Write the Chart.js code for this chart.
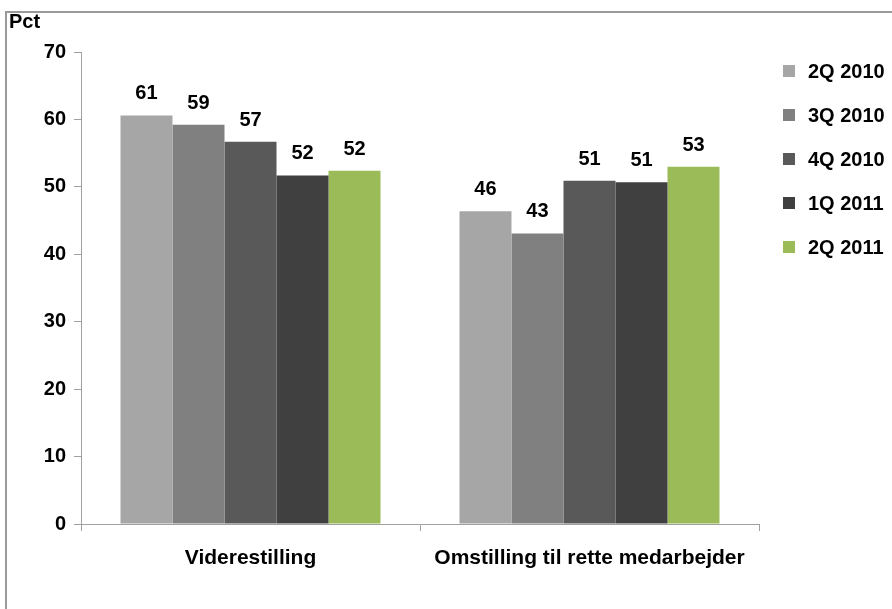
<!DOCTYPE html>
<html>
<head>
<meta charset="utf-8">
<script src="https://cdn.jsdelivr.net/npm/chart.js@4"></script>
<style>
  html, body { margin: 0; padding: 0; background: #fff; }
  #wrap { position: relative; width: 892px; height: 609px; overflow: hidden; }
  #frame { position: absolute; left: 5px; top: 11px; right: -4px; bottom: -4px;
           border-top: 2px solid #9a9a9a; border-left: 2px solid #9a9a9a; pointer-events: none; }
  canvas { position: absolute; left: 0; top: 0; }
</style>
</head>
<body>
<div id="wrap">
  <canvas id="chart" width="892" height="609"></canvas>
  <div id="frame"></div>
</div>
<script>
// Categories and quarterly shares (pct)
const categories = ['Viderestilling', 'Omstilling til rette medarbejder'];
const seriesNames = ['2Q 2010', '3Q 2010', '4Q 2010', '1Q 2011', '2Q 2011'];
const q2_2010 = [60.6, 46.4];
const q3_2010 = [59.2, 43.1];
const q4_2010 = [56.7, 50.9];
const q1_2011 = [51.7, 50.7];
const q2_2011 = [52.4, 53.0];
const yTicks = [0, 10, 20, 30, 40, 50, 60, 70];
const axisTitle = 'Pct';

const seriesValues = [q2_2010, q3_2010, q4_2010, q1_2011, q2_2011];
const seriesColors = ['#a6a6a6', '#808080', '#595959', '#404040', '#9bbb59'];

const FONT = '"Liberation Sans", Arial, sans-serif';

// Value labels above each bar
const valueLabels = {
  id: 'valueLabels',
  afterDatasetsDraw(chart) {
    const ctx = chart.ctx;
    ctx.save();
    ctx.font = 'bold 20px ' + FONT;
    ctx.fillStyle = '#000';
    ctx.textAlign = 'center';
    ctx.textBaseline = 'alphabetic';
    chart.data.datasets.forEach((ds, i) => {
      chart.getDatasetMeta(i).data.forEach((bar, j) => {
        ctx.fillText(String(Math.round(ds.data[j])), bar.x, bar.y - 16);
      });
    });
    ctx.restore();
  }
};

// Legend column on the right and the unit label in the corner
const sideLegend = {
  id: 'sideLegend',
  afterDraw(chart) {
    const ctx = chart.ctx;
    ctx.save();
    ctx.font = 'bold 20px ' + FONT;
    ctx.textBaseline = 'middle';
    ctx.textAlign = 'left';
    chart.data.datasets.forEach((ds, i) => {
      const cy = 71 + i * 44;
      ctx.fillStyle = ds.backgroundColor;
      ctx.fillRect(783, cy - 6, 12, 12);
      ctx.fillStyle = '#000';
      ctx.fillText(ds.label, 808, cy + 1);
    });
    ctx.textBaseline = 'top';
    ctx.fillText(axisTitle, 9, 12);
    ctx.restore();
  }
};

new Chart(document.getElementById('chart'), {
  type: 'bar',
  data: {
    labels: categories,
    datasets: seriesNames.map((name, i) => ({
      label: name,
      data: seriesValues[i],
      backgroundColor: seriesColors[i],
      borderWidth: 0,
      categoryPercentage: 0.767,
      barPercentage: 1.0
    }))
  },
  options: {
    responsive: false,
    animation: false,
    layout: { padding: { top: 52, right: 133, bottom: 0, left: 0 } },
    plugins: { legend: { display: false }, tooltip: { enabled: false } },
    scales: {
      x: {
        offset: true,
        grid: { display: true, drawOnChartArea: false, offset: true, tickLength: 7, color: '#a0a0a0' },
        border: { color: '#a0a0a0' },
        ticks: { font: { family: FONT, size: 21, weight: 'bold' }, color: '#000', padding: 15, maxRotation: 0 },
        afterFit(scale) { scale.height = 85; }
      },
      y: {
        min: 0,
        max: 70,
        afterBuildTicks(scale) { scale.ticks = yTicks.map(v => ({ value: v })); },
        grid: { drawOnChartArea: false, tickLength: 7, color: '#a0a0a0' },
        border: { color: '#a0a0a0' },
        ticks: { font: { family: FONT, size: 20, weight: 'bold' }, color: '#000', padding: 8 },
        afterFit(scale) { scale.width = 81; }
      }
    }
  },
  plugins: [valueLabels, sideLegend]
});
</script>
</body>
</html>
